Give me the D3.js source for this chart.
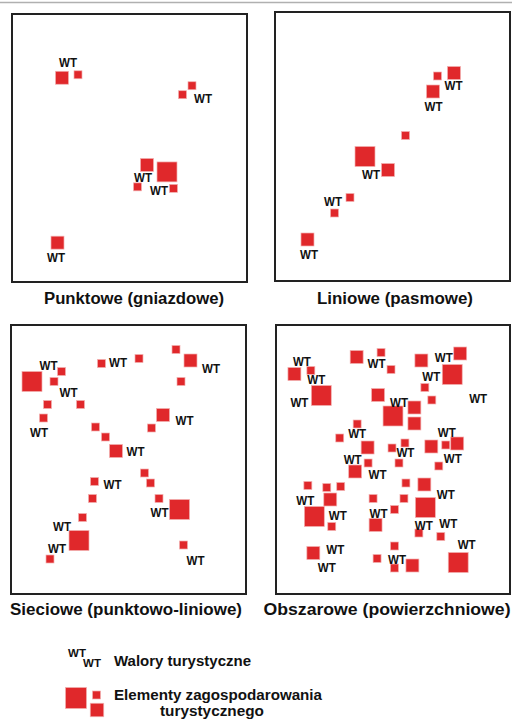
<!DOCTYPE html>
<html>
<head>
<meta charset="utf-8">
<script src="https://cdn.jsdelivr.net/npm/d3@7/dist/d3.min.js"></script>
<style>
  html, body { margin: 0; padding: 0; background: #fff; }
  svg { display: block; }
  text { font-family: "Liberation Sans", Arial, sans-serif; font-weight: bold; fill: #111; }
</style>
</head>
<body>
<svg id="chart"></svg>
<script>
// Panel titles
const panelTitles = ["Punktowe (gniazdowe)", "Liniowe (pasmowe)", "Sieciowe (punktowo-liniowe)", "Obszarowe (powierzchniowe)"];

// squares: [x, y, size] in panel units (0..235 wide, 0..269 high)
const squares1 = [[50,64,13],[66,61,8],[180,72,8],[170.5,81,8],[135,151.5,13],[155,158.5,20],[125.5,173.5,8],[161.5,175,8],[45.5,229.5,13]];
const labels1 = [[56,49],[191,84.5],[131,164],[147,177.5],[44,244]];

const squares2 = [[162.5,64,8],[179,61,13],[158,79.5,13],[130.5,123.5,8],[90,144.5,20],[113,158,13],[75,185.5,8],[59.5,201,8],[32.5,227.5,13]];
const labels2 = [[178.5,73.5],[158.5,94.5],[96,162.5],[58,189],[34,242.5]];

const squares3 = [[165,24.5,8],[179.5,35.5,13],[170,56.5,8],[128,33.5,8],[90.5,38.5,8],[50.5,46.5,8],[21,56.5,20],[43,56.5,8],
  [36.5,79.5,8],[69.5,79.5,8],[32.5,93,8],[152,90,13],[140.5,103,8],[84.5,102,8],[94.5,112,8],[105,126,13],[133.5,148,8],
  [83.5,156.5,8],[139.5,158,8],[81.5,173.5,8],[148,173.5,8],[168.5,184.5,20],[71.5,192.5,8],[68,215.5,20],[39,234,8],[172.5,220,8]];
const labels3 = [[200,43],[107,37],[37.5,40.5],[57.5,67.5],[28,107],[173.5,95.5],[124.5,126],[101.5,159],[148.5,187.5],[51,201],[46,223.5],[184.5,235]];

const squares4 = [[18.5,49,13],[35,45.5,8],[45.5,70.5,20],[81,32,13],[105.5,27.5,8],[115.5,44.5,8],[146,35.5,13],[185,28.5,13],
  [177,49.5,20],[149.5,62.5,8],[156.5,75,8],[102.5,70,13],[139,82.5,13],[117.5,91,20],[139,98.5,13],[81.5,99,8],[64,113,8],
  [92,122.5,13],[116.5,123,8],[129.5,118,8],[156,121.5,13],[170.5,120,8],[182,118.5,13],[163.5,141,8],[92.5,138,8],[123.5,138,8],
  [79.5,146.5,13],[32,160.5,8],[51,162.5,8],[65,161.5,8],[54.5,174.5,13],[38.5,191.5,20],[56,201.5,8],[130.5,158,8],[149,159.5,13],
  [97.5,173.5,8],[128.5,173.5,8],[150,182.5,20],[119,184.5,8],[100,200,13],[143.5,208,8],[165.5,211.5,8],[183,237.5,20],
  [37.5,228,13],[119,221,8],[101.5,233.5,8],[119,243,8],[137,240.5,13]];
const labels4 = [[26,36],[40.5,54],[23.5,77.5],[101,38],[168.5,32],[156,51.5],[203,73],[123.5,77.5],[81.5,108],[130,127.5],
  [171.5,107],[177.5,133],[77,134.5],[102,149.5],[29.5,175],[62,190.5],[170.5,169.5],[103,188],[148.5,200],[173,198.5],
  [191.5,219.5],[59.5,224.5],[51,242],[121.5,234]];

// legend
const legendLabels = ["Walory turystyczne", "Elementy zagospodarowania", "turystycznego"];
const legendWT = [[77,652.5],[92,662.5]];
const legendSquares = [[76,698,21],[96.5,695,8],[97,710,13.5]];

const width = 512, height = 722;
const red = "#e0282b";

const svg = d3.select("#chart").attr("width", width).attr("height", height);

// thin grey rule at the top
svg.append("line").attr("x1", 0).attr("x2", width).attr("y1", 2.5).attr("y2", 2.5)
  .attr("stroke", "#b0b0b0").attr("stroke-width", 1.5);

const panels = [
  {x: 12, y: 14, w: 235, h: 268, sq: squares1, lb: labels1, tx: 134, ty: 304, tl: 180},
  {x: 275, y: 12, w: 235, h: 269, sq: squares2, lb: labels2, tx: 395, ty: 304, tl: 156},
  {x: 11, y: 325, w: 235, h: 269, sq: squares3, lb: labels3, tx: 126, ty: 614.5, tl: 232},
  {x: 276, y: 325, w: 234, h: 269, sq: squares4, lb: labels4, tx: 387, ty: 614.5, tl: 247}
];

panels.forEach((p, i) => {
  const x = d3.scaleLinear().domain([0, 235]).range([p.x, p.x + p.w]);
  const y = d3.scaleLinear().domain([0, 269]).range([p.y, p.y + p.h]);
  const g = svg.append("g");

  g.append("rect").attr("x", p.x).attr("y", p.y).attr("width", p.w).attr("height", p.h)
    .attr("fill", "none").attr("stroke", "#222").attr("stroke-width", 2);

  g.selectAll(".sq").data(p.sq).enter().append("rect")
    .attr("x", d => x(d[0] - d[2] / 2))
    .attr("y", d => y(d[1] - d[2] / 2))
    .attr("width", d => x(d[2]) - x(0))
    .attr("height", d => y(d[2]) - y(0))
    .attr("fill", red).attr("stroke", "#f2b0b0").attr("stroke-width", 0.7);

  g.selectAll(".wt").data(p.lb).enter().append("text")
    .attr("x", d => x(d[0])).attr("y", d => y(d[1]))
    .attr("dy", "0.36em").attr("text-anchor", "middle")
    .attr("font-size", 12.5).attr("textLength", 18).attr("lengthAdjust", "spacingAndGlyphs")
    .text("WT");

  svg.append("text").attr("x", p.tx).attr("y", p.ty).attr("text-anchor", "middle")
    .attr("font-size", 16).attr("textLength", p.tl).attr("lengthAdjust", "spacingAndGlyphs")
    .text(panelTitles[i]);
});

// legend
const lx = d3.scaleLinear().domain([0, width]).range([0, width]);
const leg = svg.append("g");
leg.selectAll(".lwt").data(legendWT).enter().append("text")
  .attr("x", d => lx(d[0])).attr("y", d => d[1]).attr("dy", "0.36em")
  .attr("text-anchor", "middle").attr("font-size", 11.5).text("WT");
leg.selectAll(".lsq").data(legendSquares).enter().append("rect")
  .attr("x", d => lx(d[0] - d[2] / 2)).attr("y", d => d[1] - d[2] / 2)
  .attr("width", d => d[2]).attr("height", d => d[2])
  .attr("fill", red).attr("stroke", "#f2b0b0").attr("stroke-width", 0.7);

leg.append("text").attr("x", 114).attr("y", 666).attr("font-size", 15.5)
  .attr("textLength", 137).attr("lengthAdjust", "spacingAndGlyphs").text(legendLabels[0]);
leg.append("text").attr("x", 114).attr("y", 700).attr("font-size", 15.5)
  .attr("textLength", 208).attr("lengthAdjust", "spacingAndGlyphs").text(legendLabels[1]);
leg.append("text").attr("x", 160).attr("y", 715.5).attr("font-size", 15.5)
  .attr("textLength", 104).attr("lengthAdjust", "spacingAndGlyphs").text(legendLabels[2]);
</script>
</body>
</html>
